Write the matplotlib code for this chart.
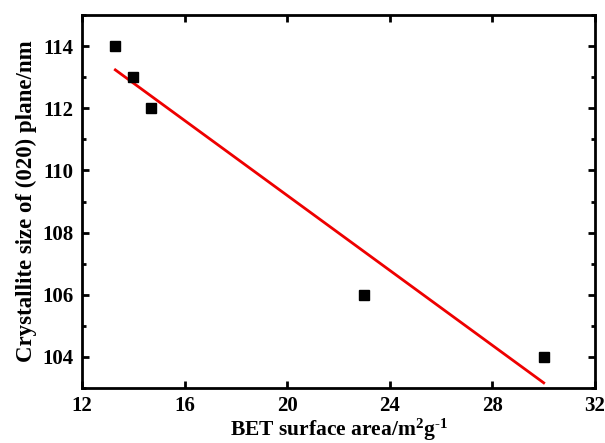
import numpy as np
import matplotlib.pyplot as plt
from matplotlib.ticker import MultipleLocator

# BET surface area vs crystallite size
bet_area = [13.3, 14.0, 14.7, 23.0, 30.0]
cryst_size = [114, 113, 112, 106, 104]

plt.rcParams['font.family'] = ['Liberation Serif', 'DejaVu Serif']
plt.rcParams['font.weight'] = 'bold'
plt.rcParams['mathtext.fontset'] = 'custom'
plt.rcParams['mathtext.rm'] = 'Liberation Serif:bold'
plt.rcParams['mathtext.bf'] = 'Liberation Serif:bold'
plt.rcParams['mathtext.default'] = 'bf'

fig = plt.figure(figsize=(6.05, 4.43), dpi=100)
ax = fig.add_axes([0.1355, 0.124, 0.848, 0.842])

ax.plot(bet_area, cryst_size, 's', color='black', markersize=7, zorder=3)

# linear fit
slope, intercept = np.polyfit(bet_area, cryst_size, 1)
xfit = np.array([min(bet_area), max(bet_area)])
ax.plot(xfit, slope * xfit + intercept, color='#ee0000', lw=2)

ax.set_xlim(12, 32)
ax.set_ylim(103, 115)
ax.xaxis.set_major_locator(MultipleLocator(4))
ax.yaxis.set_minor_locator(MultipleLocator(1))
ax.set_yticks([104, 106, 108, 110, 112, 114])

ax.tick_params(which='both', direction='in', top=True, right=True, width=2, labelsize=15)
ax.tick_params(which='major', length=5, pad=6)
ax.tick_params(which='minor', length=3)
for sp in ax.spines.values():
    sp.set_linewidth(2)
for lab in ax.get_xticklabels() + ax.get_yticklabels():
    lab.set_fontweight('bold')

ax.set_xlabel(r'BET surface area/m$^{2}$g$^{\text{-}1}$', fontsize=15.5, fontweight='bold', labelpad=0)
ax.set_ylabel('Crystallite size of (020) plane/nm', fontsize=16.5, fontweight='bold', labelpad=4)

fig.savefig('out.png', dpi=100)
